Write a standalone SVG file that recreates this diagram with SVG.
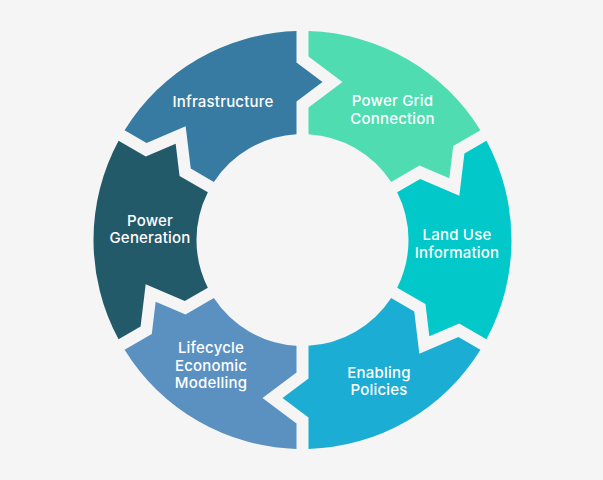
<svg xmlns="http://www.w3.org/2000/svg" xmlns:xlink="http://www.w3.org/1999/xlink" width="603" height="480" viewBox="0 0 603 480">
<style>
  .lbl { font-family: Inter, "Noto Sans", "Liberation Sans", sans-serif; font-size: 15px; font-weight: 500; letter-spacing: 0.2px; fill: #ffffff; text-anchor: middle; }
</style>
<defs>
  <path id="seg" d="M 6 -208.914 A 209 209 0 0 1 177.921 -109.651 L 150.720 -93.946 L 146.832 -61.680 L 116.945 -74.446 L 88.652 -58.111 A 106 106 0 0 0 6 -105.830 L 6 -132.5 L 40 -158 L 6 -183.5 Z"/>
</defs>
<rect x="0" y="0" width="603" height="480" fill="#f5f5f5"/>
<g id="connectors"></g>
<g id="power-grid-connection">
  <use xlink:href="#seg" href="#seg" transform="translate(302.5 240) rotate(0)" fill="#4edcb0"/>
  <text class="lbl" x="392.5" y="106">Power Grid</text>
  <text class="lbl" x="392.5" y="123.5">Connection</text>
</g>
<g id="land-use-information">
  <use xlink:href="#seg" href="#seg" transform="translate(302.5 240) rotate(60)" fill="#02c8c9"/>
  <text class="lbl" x="457" y="240">Land Use</text>
  <text class="lbl" x="457" y="257.5">Information</text>
</g>
<g id="enabling-policies">
  <use xlink:href="#seg" href="#seg" transform="translate(302.5 240) rotate(120)" fill="#1badd4"/>
  <text class="lbl" x="379" y="377.5">Enabling</text>
  <text class="lbl" x="379" y="395">Policies</text>
</g>
<g id="lifecycle-economic-modelling">
  <use xlink:href="#seg" href="#seg" transform="translate(302.5 240) rotate(180)" fill="#5b91c1"/>
  <text class="lbl" x="211" y="353">Lifecycle</text>
  <text class="lbl" x="211" y="370.5">Economic</text>
  <text class="lbl" x="211" y="388">Modelling</text>
</g>
<g id="power-generation">
  <use xlink:href="#seg" href="#seg" transform="translate(302.5 240) rotate(240)" fill="#235a6a"/>
  <text class="lbl" x="150" y="225.5">Power</text>
  <text class="lbl" x="150" y="243">Generation</text>
</g>
<g id="infrastructure">
  <use xlink:href="#seg" href="#seg" transform="translate(302.5 240) rotate(300)" fill="#377ba3"/>
  <text class="lbl" x="223" y="106.5">Infrastructure</text>
</g>
</svg>
